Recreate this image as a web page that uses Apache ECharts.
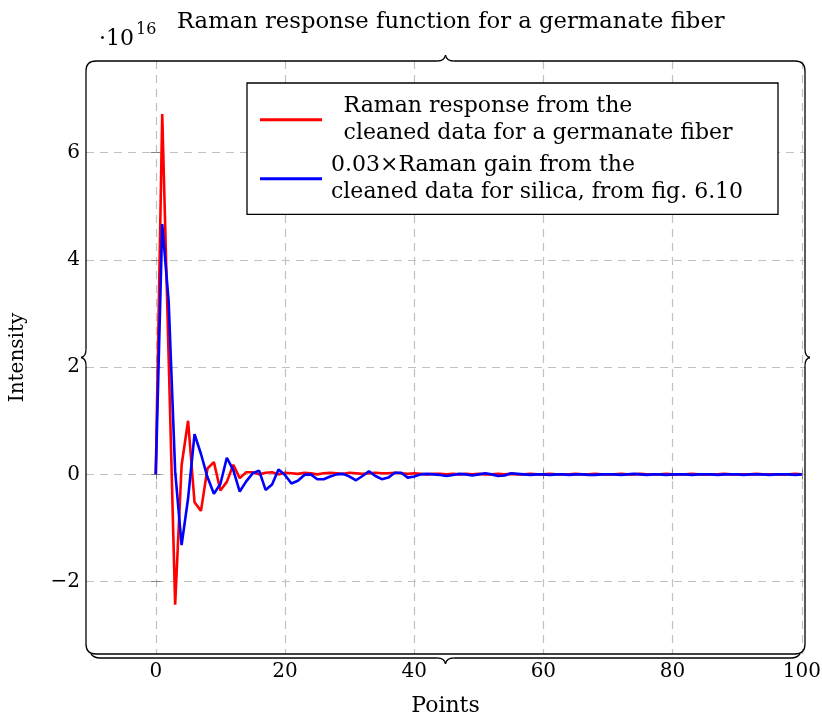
<!DOCTYPE html>
<html><head><meta charset="utf-8">
<script src="https://cdn.jsdelivr.net/npm/echarts@6/dist/echarts.min.js"></script>
<style>html,body{margin:0;padding:0;background:#fff}#c{width:822px;height:713px}</style>
</head><body><div id="c"></div>
<script>
// ---- data (values in units of 1e16) ----
const points = [0,1,2,3,4,5,6,7,8,9,10,11,12,13,14,15,16,17,18,19,20,21,22,23,24,25,26,27,28,29,30,31,32,33,34,35,36,37,38,39,40,41,42,43,44,45,46,47,48,49,50,51,52,53,54,55,56,57,58,59,60,61,62,63,64,65,66,67,68,69,70,71,72,73,74,75,76,77,78,79,80,81,82,83,84,85,86,87,88,89,90,91,92,93,94,95,96,97,98,99,100];
const germanate = [0,6.72,2.15,-2.43,0.17,1.0,-0.52,-0.68,0.11,0.23,-0.30,-0.14,0.18,-0.07,0.04,0.04,0.0,0.03,0.04,0.0,0.03,0.02,0.01,0.03,0.02,0.0,0.02,0.03,0.02,0.01,0.03,0.02,0.01,0.02,0.03,0.02,0.02,0.03,0.02,0.01,0.02,0.01,0.0,0.01,0.01,0.0,0.01,0.0,0.01,0.0,0.01,0.0,0.0,0.01,0.0,0.01,0.0,0.0,0.01,0.0,0.0,0.01,0.0,0.0,0.0,0.01,0.0,0.0,0.01,0.0,0.0,0.0,0.01,0.0,0.0,0.01,0.0,0.0,0.0,0.01,0.0,0.0,0.0,0.01,0.0,0.0,0.0,0.0,0.01,0.0,0.0,0.0,0.0,0.01,0.0,0.0,0.0,0.0,0.0,0.01,0.0];
const silica = [0,4.67,3.22,0.06,-1.32,-0.45,0.75,0.38,-0.05,-0.36,-0.18,0.31,0.08,-0.32,-0.13,0.02,0.07,-0.29,-0.19,0.09,-0.01,-0.17,-0.12,-0.01,0.0,-0.09,-0.09,-0.04,0.0,0.01,-0.04,-0.11,-0.03,0.06,-0.03,-0.09,-0.06,0.03,0.03,-0.06,-0.04,0.0,0.01,0.0,-0.01,-0.03,-0.01,0.01,0.0,-0.02,0.0,0.02,0.0,-0.03,-0.02,0.02,0.01,0.0,-0.01,0.0,0.0,-0.01,0.0,0.0,-0.01,0.0,0.0,-0.01,-0.01,0.0,0.0,0.0,-0.01,0.0,0.01,0.0,-0.01,0.0,0.0,-0.01,0.0,0.0,0.0,-0.01,0.0,0.0,0.0,-0.01,0.0,0.0,0.0,-0.01,0.0,0.0,0.0,-0.01,0.0,0.0,0.0,-0.01,0.0];
const xTicks = [0,20,40,60,80,100];
const yTicks = [-2,0,2,4,6];
const titleText = 'Raman response function for a germanate fiber';
const xName = 'Points';
const yName = 'Intensity';
const redName = 'Raman response from the\ncleaned data for a germanate fiber';
const blueName = '0.03\u00d7Raman gain from the\ncleaned data for silica, from fig. 6.10';

// ---- layout ----
const FONT = 'DejaVu Serif';
const FS = 20, FSW = 22;
const L = 86, R = 805, T = 61, B = 654, W = 822, H = 713;
const X_MIN = -10.8, X_MAX = 100.5, Y_MIN = -3.35, Y_MAX = 7.71;

const fmt = v => v < 0 ? '\u2212' + Math.abs(v) : String(v);
const tickStyle = {color: '#808080', width: 1};
const gridStyle = {color: '#c0c0c0', width: 1.2, type: [8, 6]};
const txt = {fontFamily: FONT, fontSize: FS, color: '#000'};
const txtW = {fontFamily: FONT, fontSize: FSW, color: '#000'};

const chart = echarts.init(document.getElementById('c'), null, {renderer: 'canvas'});

// brace / frame decoration built from line and quadratic segments
const cx = (L + R) / 2, my = (T + B) / 2, r = 10;
const segs = [
  ['L', L, B - r, L, my + 8], ['Q', L, my + 8, L, my + 1, L - 5, my], ['Q', L - 5, my, L, my - 1, L, my - 8],
  ['L', L, my - 8, L, T + r], ['Q', L, T + r, L, T, L + r, T],
  ['L', L + r, T, cx - 8, T], ['Q', cx - 8, T, cx - 1, T, cx, T - 6], ['Q', cx, T - 6, cx + 1, T, cx + 8, T],
  ['L', cx + 8, T, R - r, T], ['Q', R - r, T, R, T, R, T + r],
  ['L', R, T + r, R, my - 8], ['Q', R, my - 8, R, my - 1, R + 5, my], ['Q', R + 5, my, R, my + 1, R, my + 8],
  ['L', R, my + 8, R, B - r], ['Q', R, B - r, R, B, R - r, B],
  ['L', R - r, B, L + r, B], ['Q', L + r, B, L, B, L, B - r],
  // bottom brace below the frame
  ['Q', L + 5, B, L + 8, B + 4, L + 14, B + 4], ['L', L + 14, B + 4, cx - 8, B + 4],
  ['Q', cx - 8, B + 4, cx - 1, B + 4, cx, B + 10], ['Q', cx, B + 10, cx + 1, B + 4, cx + 8, B + 4],
  ['L', cx + 8, B + 4, R - 14, B + 4], ['Q', R - 14, B + 4, R - 8, B + 4, R - 5, B]
];
const strokeStyle = {stroke: '#000', lineWidth: 1.3, fill: null};
const braceEls = segs.map(s => s[0] === 'L'
  ? {type: 'line', shape: {x1: s[1], y1: s[2], x2: s[3], y2: s[4]}, style: strokeStyle, z: 50, silent: true}
  : {type: 'bezierCurve', shape: {x1: s[1], y1: s[2], cpx1: s[3], cpy1: s[4], x2: s[5], y2: s[6]}, style: strokeStyle, z: 50, silent: true});

const option = {
  animation: false,
  title: {text: titleText, left: 172, top: 6, textStyle: Object.assign({fontWeight: 'normal'}, txtW, {fontSize: 22.7})},
  grid: {left: L, right: W - R, top: T, bottom: H - B, containLabel: false, outerBoundsMode: 'none'},
  xAxis: [{
    type: 'value', min: X_MIN, max: X_MAX, position: 'bottom',
    axisLine: {show: false},
    axisTick: {show: true, inside: true, length: 5, customValues: xTicks, lineStyle: tickStyle},
    axisLabel: Object.assign({customValues: xTicks, formatter: fmt, margin: 8}, txt),
    splitLine: {show: true, lineStyle: gridStyle},
    name: xName, nameLocation: 'middle', nameGap: 41, nameTextStyle: txtW
  }, {
    type: 'value', min: X_MIN, max: X_MAX, position: 'top',
    axisLine: {show: false},
    axisTick: {show: true, inside: true, length: 5, customValues: xTicks, lineStyle: tickStyle},
    axisLabel: {show: false}, splitLine: {show: false}
  }],
  yAxis: [{
    type: 'value', min: Y_MIN, max: Y_MAX, position: 'left',
    axisLine: {show: false},
    axisTick: {show: true, inside: true, length: 5, customValues: yTicks, lineStyle: tickStyle},
    axisLabel: Object.assign({customValues: yTicks, formatter: fmt, margin: 6}, txt),
    splitLine: {show: true, lineStyle: gridStyle},
    name: yName, nameLocation: 'middle', nameGap: 58, nameRotate: 90, nameTextStyle: txt
  }, {
    type: 'value', min: Y_MIN, max: Y_MAX, position: 'right',
    axisLine: {show: false},
    axisTick: {show: true, inside: true, length: 5, customValues: yTicks, lineStyle: tickStyle},
    axisLabel: {show: false}, splitLine: {show: false}
  }],
  legend: {
    orient: 'vertical', left: 247, top: 83,
    padding: [10, 0, 9, 13], itemGap: 5.6, itemWidth: 62, itemHeight: 3, icon: 'rect',
    borderColor: '#000', borderWidth: 1.3, backgroundColor: '#fff',
    data: [redName, blueName],
    formatter: n => n === redName ? '{a|' + n + '}' : '{b|' + n + '}',
    textStyle: {
      fontFamily: FONT, fontSize: FSW, color: '#000', lineHeight: 26.7,
      rich: {
        a: {fontFamily: FONT, fontSize: FSW, lineHeight: 26.7, padding: [0, 0, 0, 16.6], width: 430.4},
        b: {fontFamily: FONT, fontSize: FSW, lineHeight: 26.7, padding: [0, 0, 0, 4], width: 447}
      }
    }
  },
  graphic: braceEls.concat([
    {type: 'text', left: 99, top: 28, style: {text: '\u00b710', font: `22px "${FONT}"`, fill: '#000'}},
    {type: 'text', left: 136, top: 22, style: {text: '16', font: `16px "${FONT}"`, fill: '#000'}}
  ]),
  series: [{
    name: redName, type: 'line', xAxisIndex: 0, yAxisIndex: 0, symbol: 'none',
    data: points.map((p, i) => [p, germanate[i]]),
    lineStyle: {color: '#ff0000', width: 2.6}, itemStyle: {color: '#ff0000'}, z: 3
  }, {
    name: blueName, type: 'line', xAxisIndex: 0, yAxisIndex: 0, symbol: 'none',
    data: points.map((p, i) => [p, silica[i]]),
    lineStyle: {color: '#0000ff', width: 2.6}, itemStyle: {color: '#0000ff'}, z: 4
  }]
};
chart.setOption(option);
</script>
</body></html>
